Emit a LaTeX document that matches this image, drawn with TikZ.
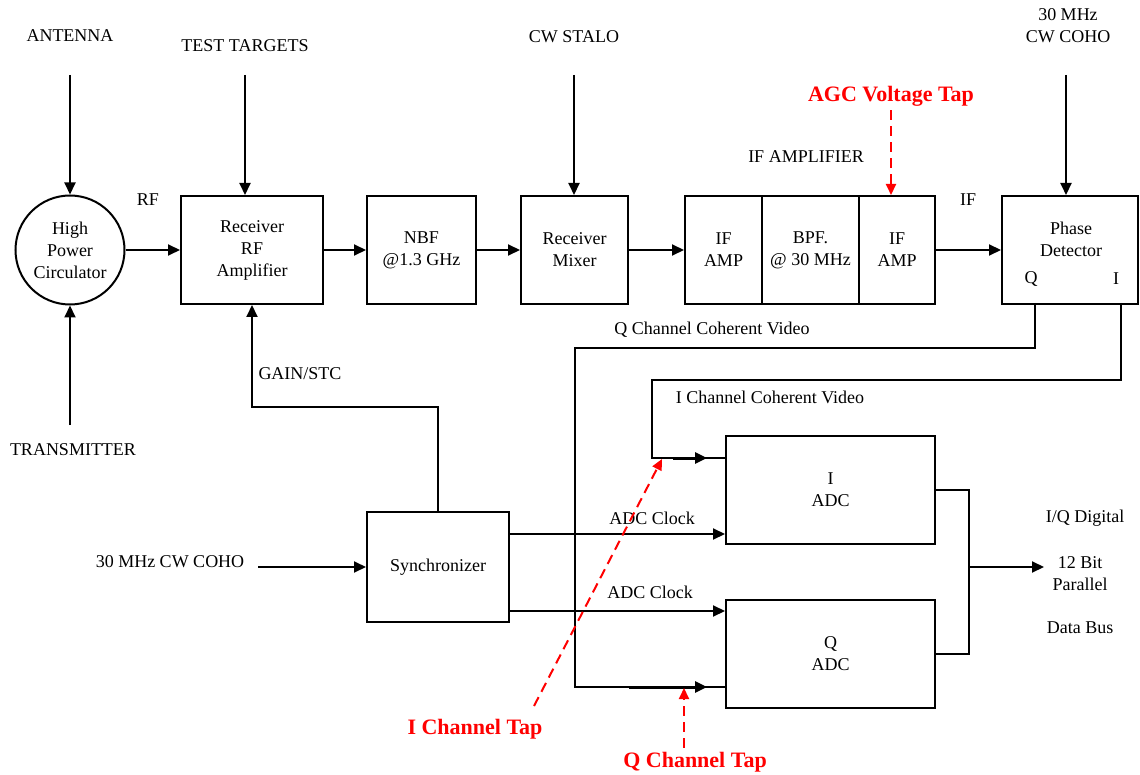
\documentclass[tikz,border=0pt]{standalone}
\usepackage{fontspec}
\setmainfont{Liberation Serif}
\usetikzlibrary{arrows.meta}

\tikzset{
  blk/.style={draw, minimum height=108},
  sig/.style={-{Triangle[length=12pt,width=11pt]}},
  tap/.style={red, dash pattern=on 10pt off 6pt, -{Triangle[length=11pt,width=10pt]}},
  taptext/.style={red, font=\fontsize{22}{24}\selectfont\bfseries},
}

\begin{document}
\begin{tikzpicture}[x=1pt, y=-1pt, line width=2pt,
    every node/.style={font=\fontsize{18}{22}\selectfont, align=center}]
    \useasboundingbox (0,0) rectangle (1140,775);

    % receiver chain
    \node[draw, circle, inner sep=0pt, minimum size=109] (circ) at (70,250) {High\\Power\\Circulator};
    \node[blk, minimum width=142] (rfamp) at (252,250) {Receiver\\RF\\Amplifier};
    \node[blk, minimum width=109] (nbf) at (421.5,250) {NBF\\@1.3 GHz};
    \node[blk, minimum width=107] (mixer) at (574.5,250) {Receiver\\Mixer};
    \node[blk, minimum width=77] (ifa1) at (723.5,250) {IF\\AMP};
    \node[blk, minimum width=97] (bpf) at (810.5,250) {BPF.\\@ 30 MHz};
    \node[blk, minimum width=76] (ifa2) at (897,250) {IF\\AMP};
    \node[blk, minimum width=136] (pd) at (1070,250) {};
    \node (pdtxt) at (1071,239) {Phase\\Detector};
    \node (pdq) at (1031,279) {Q};
    \node (pdi) at (1116,279) {I};
    \foreach \a/\b in {circ/rfamp, rfamp/nbf, nbf/mixer, mixer/ifa1, ifa2/pd}
        \draw[sig] (\a) -- (\b);

    % inputs from above and below
    \node (ant) at (70,36) {ANTENNA};
    \node (tt) at (245,46) {TEST TARGETS};
    \node (stalo) at (574,37) {CW STALO};
    \node (coho) at (1068,26) {30 MHz\\CW COHO};
    \node (tx) at (73,450) {TRANSMITTER};
    \coordinate (antin) at (70,75);
    \coordinate (ttin) at (245,75);
    \coordinate (staloin) at (574,75);
    \coordinate (cohoin) at (1066,75);
    \coordinate (txin) at (70,425);
    \draw[sig] (antin) -- (circ);
    \draw[sig] (txin) -- (circ);
    \draw[sig] (ttin) -- (ttin |- rfamp.north);
    \draw[sig] (staloin) -- (staloin |- mixer.north);
    \draw[sig] (cohoin) -- (cohoin |- pd.north);

    \node (rf) at (148,200) {RF};
    \node (if) at (968,200) {IF};
    \node (ifamp) at (806,157) {IF AMPLIFIER};
    \node[taptext] (agc) at (891,96) {AGC Voltage Tap};
    \draw[tap] (agc.south) -- (agc.south |- ifa2.north);

    % synchronizer and ADCs
    \node[blk, minimum width=142, minimum height=110] (sync) at (438,567) {Synchronizer};
    \node[blk, minimum width=209] (iadc) at (830.5,490) {I\\ADC};
    \node[blk, minimum width=209] (qadc) at (830.5,654) {Q\\ADC};
    \node (cohob) at (170,562) {30 MHz CW COHO};
    \coordinate (cohobin) at (258,567);
    \draw[sig] (cohobin) -- (sync);
    \node (gain) at (300,374) {GAIN/STC};
    \draw[sig] (sync.north) -- ++(0,-104) -| (rfamp.south);

    \coordinate (clka) at (0,534);
    \coordinate (clkb) at (0,611);
    \node (clkalbl) at (652,518) {ADC Clock};
    \node (clkblbl) at (650,592) {ADC Clock};
    \draw[sig] (sync.east |- clka) -- (iadc.west |- clka);
    \draw[sig] (sync.east |- clkb) -- (qadc.west |- clkb);

    % coherent video
    \coordinate (qout) at (1035,303);
    \coordinate (iout) at (1121,303);
    \coordinate (qin) at (0,687);
    \coordinate (iin) at (0,458);
    \node (qvid) at (712,330) {Q Channel Coherent Video};
    \node (ivid) at (770,397) {I Channel Coherent Video};
    \draw (qout) |- (575,348) |- (qadc.west |- qin);
    \draw (iout) |- (652,380) |- (iadc.west |- iin);
    \draw[sig, line width=3pt] (673,458) -- (707,458);
    \draw[sig, line width=3pt] (629,687) -- (707,687);

    % output bus
    \coordinate (busj) at (969,567);
    \coordinate (busout) at (1044,567);
    \draw (iadc.east) -| (busj) |- (qadc.east);
    \draw[sig] (busj) -- (busout);
    \node (iqd) at (1085,518) {I/Q Digital};
    \node (bits) at (1080,574) {12 Bit\\Parallel};
    \node (dbus) at (1080,628) {Data Bus};

    % taps
    \node[taptext] (itap) at (475,729) {I Channel Tap};
    \node[taptext] (qtap) at (695,762) {Q Channel Tap};
    \coordinate (itapfoot) at (534,706);
    \coordinate (itaptip) at (662,459);
    \coordinate (qtaptip) at (684,688);
    \draw[tap] (itapfoot) -- (itaptip);
    \draw[tap] (qtap.north -| qtaptip) -- (qtaptip);
\end{tikzpicture}
\end{document}
